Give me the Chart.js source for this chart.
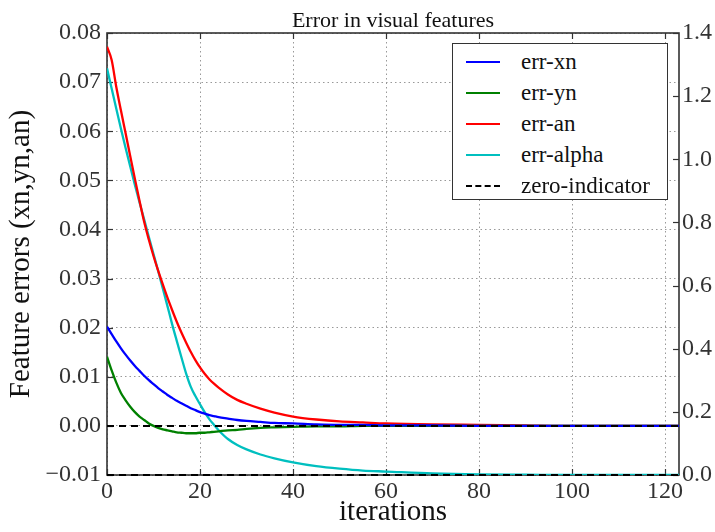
<!DOCTYPE html>
<html>
<head>
<meta charset="utf-8">
<script src="https://cdn.jsdelivr.net/npm/chart.js@4"></script>
<style>
  html, body { margin: 0; padding: 0; background: #fff; }
  #wrap { position: relative; width: 715px; height: 532px; }
  #legend {
    position: absolute; left: 452px; top: 43px; width: 214px; height: 155px;
    border: 1.5px solid #333; background: #fff; box-sizing: content-box;
    font-family: "Liberation Serif", serif; font-size: 23px; color: #111;
  }
  .lg-row { position: absolute; left: 0; height: 30px; line-height: 30px; white-space: nowrap; }
  .lg-line { position: absolute; left: 13px; top: 14px; width: 34px; height: 0; }
  .lg-text { position: absolute; left: 68px; top: 0; }
</style>
</head>
<body>
<div id="wrap">
  <canvas id="c" width="715" height="532"></canvas>
  <div id="legend"></div>
</div>
<script>
"use strict";

// sample iterations (x)
var iters = [0, 1, 2, 3, 4, 5, 6, 7, 8, 9, 10, 11, 12, 13, 14, 15, 16, 17, 18, 19, 20,
  21, 22, 23, 24, 26, 28, 30, 33, 36, 40, 45, 50, 55, 60, 70, 80, 90, 100, 110, 123];

// left axis series
var errXn = [0.0202, 0.0187, 0.0172, 0.0158, 0.0145, 0.0133, 0.0122, 0.0112, 0.0102, 0.0093, 0.0085,
  0.0077, 0.0070, 0.0063, 0.0057, 0.0051, 0.0046, 0.0041, 0.0036, 0.0032, 0.0028,
  0.0025, 0.0022, 0.0020, 0.0018, 0.0015, 0.0012, 0.0010, 0.0008, 0.0006, 0.0005,
  0.0003, 0.0002, 0.0002, 0.0001, 0.0001, 0, 0, 0, 0, 0];
var errYn = [0.0141, 0.0113, 0.0088, 0.0067, 0.0052, 0.0039, 0.0028, 0.0019, 0.0012, 0.0005, 0.0000,
  -0.0004, -0.0007, -0.0009, -0.0011, -0.0013, -0.0014, -0.0015, -0.0015, -0.0015, -0.0014,
  -0.0014, -0.0013, -0.0012, -0.0011, -0.0009, -0.0008, -0.0006, -0.0004, -0.0003, -0.0002,
  -0.0001, -0.0001, 0, 0, 0, 0, 0, 0, 0, 0];
var errAn = [0.0772, 0.0745, 0.0690, 0.0642, 0.0596, 0.0549, 0.0503, 0.0458, 0.0415, 0.0379, 0.0346,
  0.0316, 0.0288, 0.0261, 0.0236, 0.0212, 0.0190, 0.0170, 0.0151, 0.0134, 0.0119,
  0.0106, 0.0095, 0.0086, 0.0078, 0.0064, 0.0053, 0.0045, 0.0035, 0.0027, 0.0019,
  0.0013, 0.0009, 0.0007, 0.0005, 0.0003, 0.0002, 0.0001, 0, 0, 0];

// right axis series
var errAlpha = [1.288, 1.224, 1.160, 1.097, 1.036, 0.977, 0.919, 0.863, 0.809, 0.754, 0.700,
  0.646, 0.591, 0.535, 0.478, 0.425, 0.373, 0.322, 0.280, 0.250, 0.224,
  0.199, 0.177, 0.159, 0.142, 0.114, 0.095, 0.081, 0.065, 0.053, 0.040,
  0.028, 0.020, 0.014, 0.011, 0.005, 0.002, 0.001, 0, 0, 0];

var zeroX = [0, 123];
var zeroY = [0, 0];

var xTicks = [0, 20, 40, 60, 80, 100, 120];
var leftTicks = [-0.01, 0, 0.01, 0.02, 0.03, 0.04, 0.05, 0.06, 0.07, 0.08];
var rightTicks = [0, 0.2, 0.4, 0.6, 0.8, 1.0, 1.2, 1.4];

var TITLE = "Error in visual features";
var FONT = "'Liberation Serif', serif";
var TICK_COLOR = "#333";

function pts(xs, ys) {
  return xs.map(function(x, i) { return { x: x, y: ys[i] }; });
}

function curve(label, color, data, axis) {
  return {
    label: label, data: data, yAxisID: axis,
    borderColor: color, backgroundColor: color, borderWidth: 2.3,
    pointRadius: 0, fill: false, cubicInterpolationMode: "monotone", order: 2
  };
}

function zeroLine(label, axis) {
  return {
    label: label, data: pts(zeroX, zeroY), yAxisID: axis, borderColor: "#000",
    borderWidth: 2, borderDash: [7, 5], pointRadius: 0, fill: false, order: 0, clip: false
  };
}

var datasets = [
  curve("err-xn", "#0000ff", pts(iters, errXn), "yL"),
  curve("err-yn", "#008000", pts(iters, errYn), "yL"),
  curve("err-an", "#ff0000", pts(iters, errAn), "yL"),
  curve("err-alpha", "#00bfbf", pts(iters, errAlpha), "yR"),
  zeroLine("zero-indicator", "yL"),
  zeroLine("zero-indicator-r", "yR")
];

function fixedTicks(list) {
  return function(scale) {
    scale.ticks = list.map(function(v) { return { value: v }; });
  };
}

function fmtLeft(v) {
  var s = Math.abs(v).toFixed(2);
  return v < -1e-9 ? "\u2212" + s : s;
}

// frame + inward tick marks (under the lines), title centred on the plot
var framePlugin = {
  id: "frame",
  beforeDatasetsDraw: function(chart) {
    var ctx = chart.ctx, a = chart.chartArea;
    var sx = chart.scales.x, sl = chart.scales.yL, sr = chart.scales.yR;
    var len = 6;
    ctx.save();
    ctx.strokeStyle = "#333";
    ctx.lineWidth = 1.2;
    xTicks.forEach(function(v) {
      var p = Math.round(sx.getPixelForValue(v)) + 0.5;
      ctx.beginPath();
      ctx.moveTo(p, a.bottom); ctx.lineTo(p, a.bottom - len);
      ctx.moveTo(p, a.top); ctx.lineTo(p, a.top + len);
      ctx.stroke();
    });
    leftTicks.forEach(function(v) {
      var p = Math.round(sl.getPixelForValue(v)) + 0.5;
      ctx.beginPath(); ctx.moveTo(a.left, p); ctx.lineTo(a.left + len, p); ctx.stroke();
    });
    rightTicks.forEach(function(v) {
      var p = Math.round(sr.getPixelForValue(v)) + 0.5;
      ctx.beginPath(); ctx.moveTo(a.right, p); ctx.lineTo(a.right - len, p); ctx.stroke();
    });
    ctx.lineWidth = 1.6;
    ctx.strokeRect(a.left, a.top, a.right - a.left, a.bottom - a.top);

    ctx.fillStyle = "#111";
    ctx.font = "22px " + FONT;
    ctx.textAlign = "center";
    ctx.textBaseline = "alphabetic";
    ctx.fillText(TITLE, (a.left + a.right) / 2, 27);
    ctx.restore();
  }
};

var chart = new Chart(document.getElementById("c").getContext("2d"), {
  type: "line",
  data: { datasets: datasets },
  plugins: [framePlugin],
  options: {
    responsive: false,
    animation: false,
    layout: { padding: { top: 33, left: 0, right: 0, bottom: 0 } },
    plugins: {
      legend: { display: false },
      tooltip: { enabled: false },
      title: { display: false }
    },
    scales: {
      x: {
        type: "linear", min: 0, max: 123,
        afterBuildTicks: fixedTicks(xTicks),
        afterFit: function(s) { s.height = 57; },
        grid: { color: "#999", lineWidth: 1, drawTicks: false },
        border: { display: false, dash: [1.5, 3] },
        ticks: { color: TICK_COLOR, padding: 2, font: { family: FONT, size: 24 }, maxRotation: 0 },
        title: { display: true, text: "iterations", color: "#111",
          font: { family: FONT, size: 29 }, padding: { top: 0, bottom: 2 } }
      },
      yL: {
        type: "linear", position: "left", min: -0.01, max: 0.08,
        afterBuildTicks: fixedTicks(leftTicks),
        afterFit: function(s) { s.width = 107; },
        grid: { color: "#999", lineWidth: 1, drawTicks: false },
        border: { display: false, dash: [1.5, 3] },
        ticks: { color: TICK_COLOR, padding: 6, font: { family: FONT, size: 24 }, callback: fmtLeft },
        title: { display: true, text: "Feature errors (xn,yn,an)", color: "#111",
          font: { family: FONT, size: 29 }, padding: { top: 4, bottom: 0 } }
      },
      yR: {
        type: "linear", position: "right", min: 0, max: 1.4,
        afterBuildTicks: fixedTicks(rightTicks),
        afterFit: function(s) { s.width = 36; },
        grid: { display: false, drawTicks: false },
        border: { display: false },
        ticks: { color: TICK_COLOR, padding: 3, font: { family: FONT, size: 24 },
          callback: function(v) { return v.toFixed(1); } }
      }
    }
  }
});

// legend box built from the datasets
(function() {
  var box = document.getElementById("legend");
  var html = "";
  var shown = datasets.filter(function(d) { return d.label !== "zero-indicator-r"; });
  shown.forEach(function(d, i) {
    var style = d.borderDash ? "border-top:2.5px dashed " + d.borderColor :
      "border-top:2.5px solid " + d.borderColor;
    html += '<div class="lg-row" style="top:' + (3 + i * 31) + 'px;width:100%;">' +
      '<div class="lg-line" style="' + style + ';"></div>' +
      '<span class="lg-text">' + d.label + '</span></div>';
  });
  box.innerHTML = html;
})();
</script>
</body>
</html>
